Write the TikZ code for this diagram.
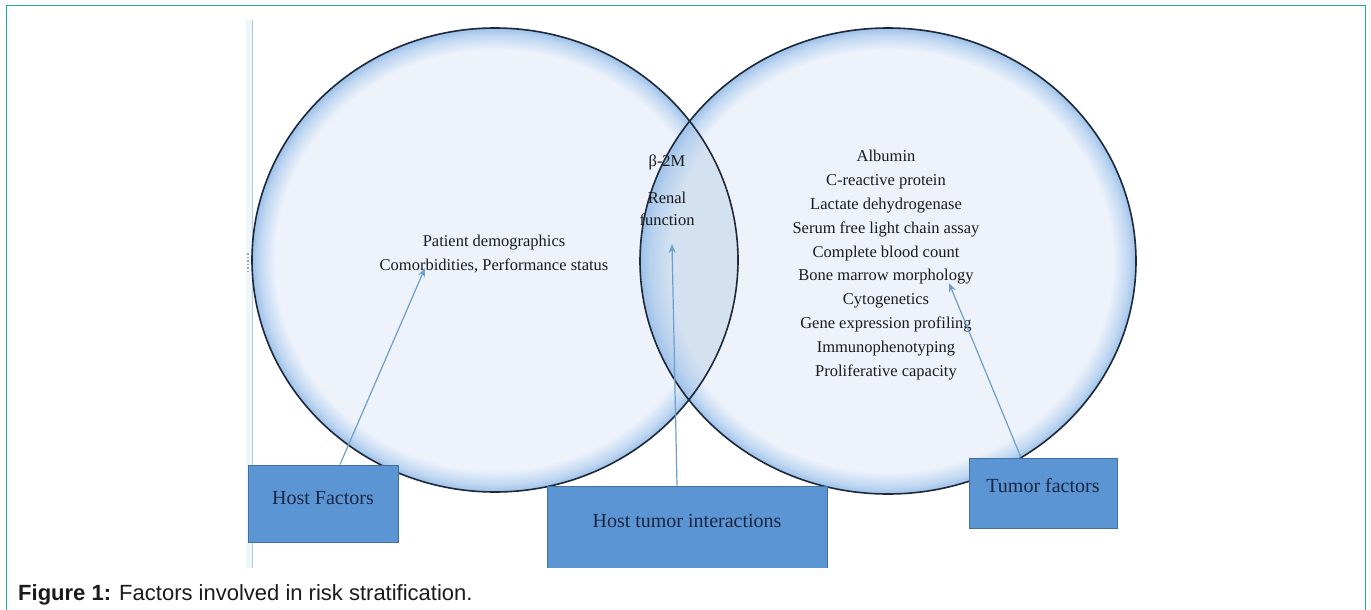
\documentclass[tikz,border=0pt]{standalone}
\usepackage{fontspec}
\setmainfont{Liberation Serif}
\setsansfont{Liberation Sans}
\usepackage{tikz}
\usetikzlibrary{arrows.meta}

\definecolor{frameteal}{HTML}{1DB39B}
\definecolor{bubbleface}{HTML}{EEF3FB}
\definecolor{bubblerim}{HTML}{9CC1EA}
\definecolor{lensface}{HTML}{D3E1F1}
\definecolor{rimline}{HTML}{1E2838}
\definecolor{boxfill}{HTML}{5B95D3}
\definecolor{boxedge}{HTML}{41719C}
\definecolor{boxtext}{HTML}{1B2642}
\definecolor{listtext}{HTML}{1A1A1A}
\definecolor{arrowblue}{HTML}{6D9FCB}
\definecolor{sideline}{HTML}{B3CAD3}
\definecolor{sideband}{HTML}{EDF6F8}

\pgfdeclareradialshading{bubble}{\pgfpoint{0bp}{0bp}}{color(0bp)=(bubbleface); color(22.6bp)=(bubbleface); color(24.2bp)=(bubbleface!45!bubblerim); color(25bp)=(bubblerim); color(50bp)=(white)}
\pgfdeclareradialshading{lens}{\pgfpoint{0bp}{0bp}}{color(0bp)=(lensface); color(22bp)=(lensface); color(24bp)=(lensface!50!bubblerim); color(25bp)=(bubblerim); color(50bp)=(bubblerim)}

\begin{document}
\begin{tikzpicture}[x=1pt,y=-1pt]
	\useasboundingbox (0,0) rectangle (1371,610);
	\draw[frameteal, line width=1.5pt] (6.5,612) -- (6.5,5.5) -- (1365.5,5.5) -- (1365.5,612);
	\begin{scope}
		\clip (0,0) rectangle (1371,567.5);
		\fill[sideband] (246,20) rectangle (252,567.5);
		\draw[sideline, line width=1.3pt] (252.5,20) -- (252.5,567.5);
		\draw[gray!70, line width=1.2pt, dash pattern=on 1.5pt off 2pt] (248,253) -- (248,273);
		% the two circles
		\shade[shading=bubble] (495,260) ellipse [x radius=243pt, y radius=232pt];
		\shade[shading=bubble] (888,261) ellipse [x radius=248pt, y radius=233pt];
		\begin{scope}
			\clip (495,260) ellipse [x radius=243pt, y radius=232pt];
			\shade[shading=lens] (888,261) ellipse [x radius=248pt, y radius=233pt];
		\end{scope}
		\draw[rimline, line width=1.6pt] (495,260) ellipse [x radius=243pt, y radius=232pt];
		\draw[rimline, line width=1.6pt] (888,261) ellipse [x radius=248pt, y radius=233pt];
		% texts
		\begin{scope}[every node/.style={font=\fontsize{16.5}{23.8}\selectfont, align=center, text=listtext, inner sep=0pt}]
			\node (hostlist) at (494,254) {Patient demographics\\Comorbidities, Performance status};
			\node (betatext) at (667,162) {β-2M};
			\node[font=\fontsize{16.5}{22}\selectfont] (renaltext) at (667,209) {Renal\\function};
			\node (tumorlist) at (886,265) {Albumin\\C-reactive protein\\Lactate dehydrogenase\\Serum free light chain assay\\Complete blood count\\Bone marrow morphology\\Cytogenetics\\Gene expression profiling\\Immunophenotyping\\Proliferative capacity};
		\end{scope}
		\coordinate (hosttip) at (425,268);
		\coordinate (intertip) at (672,244);
		\coordinate (tumortip) at (949,283);
		% boxes
		\begin{scope}[every node/.style={draw=boxedge, fill=boxfill, line width=1pt, inner sep=0pt,
				font=\fontsize{20}{24}\selectfont, text=boxtext}]
			\node[minimum width=150pt, minimum height=77pt, text depth=11pt] (hostbox) at (323,503.5) {Host Factors};
			\node[minimum width=280pt, minimum height=83pt, text depth=13pt] (interbox) at (687,527.5) {Host tumor interactions};
			\node[minimum width=148pt, minimum height=70pt, text depth=16pt] (tumorbox) at (1043,493) {Tumor factors};
		\end{scope}
		\begin{scope}[>={Stealth[length=9pt, width=7pt]},
				every edge/.style={draw=arrowblue, line width=1.2pt}]
			\path [->] ([xshift=17pt]hostbox.north) edge (hosttip);
			\path [->] ([xshift=-10pt]interbox.north) edge (intertip);
			\path [->] ([xshift=-22pt]tumorbox.north) edge (tumortip);
		\end{scope}
	\end{scope}
	\node[anchor=base west, inner sep=0pt, font=\sffamily\fontsize{22}{26}\selectfont, text=listtext] (caption) at (18,600) {\textbf{Figure 1:} Factors involved in risk stratification.};
\end{tikzpicture}
\end{document}
